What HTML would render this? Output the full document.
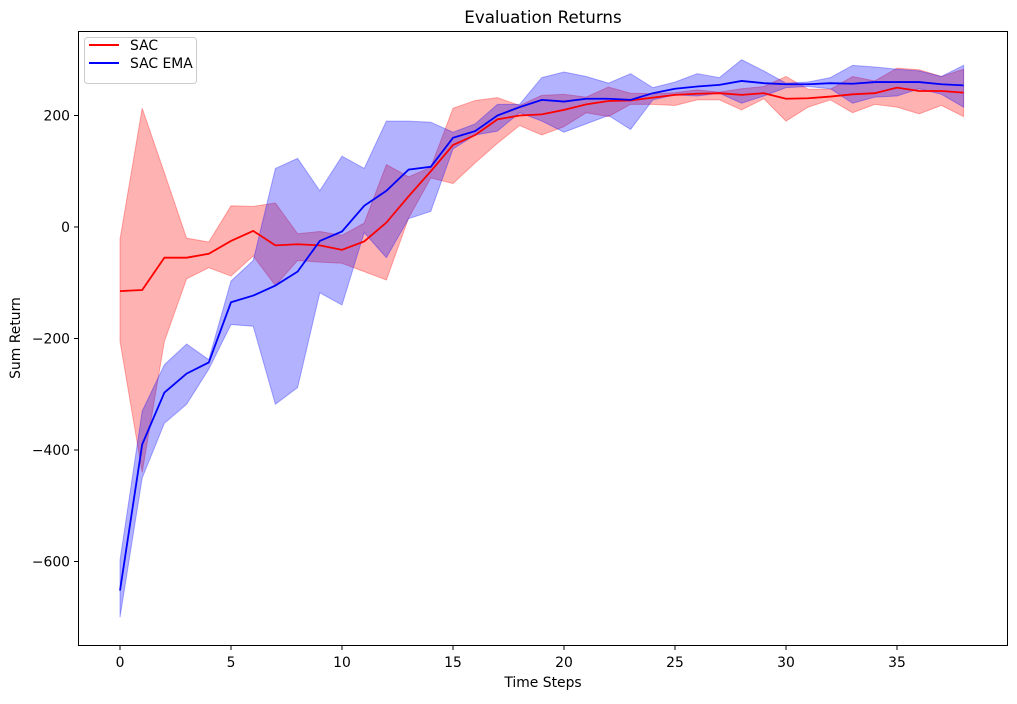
<!DOCTYPE html>
<html><head><meta charset="utf-8"><style>
body{margin:0;background:#fff;font-family:"Liberation Sans","DejaVu Sans",sans-serif;}
svg text{font-family:"DejaVu Sans","Liberation Sans",sans-serif;}
</style></head><body>
<svg id="chart" width="1017" height="699" xmlns="http://www.w3.org/2000/svg">
<rect width="1017" height="699" fill="#fff"/>
<g id="bands"></g><g id="lines"></g>
<rect x="78.5" y="31.5" width="929" height="614" fill="none" stroke="#000" stroke-width="1"/>
<g id="axes"></g>
<text x="543" y="23" font-size="16.7" text-anchor="middle">Evaluation Returns</text>
<text x="543" y="687" font-size="13.9" text-anchor="middle">Time Steps</text>
<text x="20" y="338" font-size="13.9" text-anchor="middle" transform="rotate(-90 20 338)">Sum Return</text>
<g>
<rect x="84.5" y="37.5" width="112" height="46" rx="3" fill="#fff" fill-opacity="0.8" stroke="#ccc"/>
<line x1="89" y1="45" x2="119" y2="45" stroke="red" stroke-width="2"/>
<text x="130" y="50" font-size="13.9">SAC</text>
<line x1="89" y1="63" x2="119" y2="63" stroke="blue" stroke-width="2"/>
<text x="130" y="68" font-size="13.9">SAC EMA</text>
</g>
</svg>
<script>
const steps=[0,1,2,3,4,5,6,7,8,9,10,11,12,13,14,15,16,17,18,19,20,21,22,23,24,25,26,27,28,29,30,31,32,33,34,35,36,37,38];
const sacMean=[-115,-113,-55,-55,-48,-25,-7,-33,-31,-33,-41,-26,8,55,100,147,165,193,200,202,210,220,226,227,232,237,239,240,237,240,230,231,234,238,240,250,244,244,241];
const sacUpper=[-22,213,97,-20,-27,38,37,43,-12,-8,-15,7,112,90,107,213,227,232,218,236,238,233,251,240,239,241,246,242,248,252,270,247,247,270,262,285,282,270,283];
const sacLower=[-205,-440,-205,-93,-73,-88,-52,-105,-60,-63,-65,-80,-95,16,88,78,115,150,182,165,180,205,198,220,220,218,228,228,210,230,190,215,228,205,220,215,203,218,198];
const emaMean=[-652,-390,-297,-263,-243,-135,-123,-105,-80,-25,-8,38,65,103,108,160,172,200,215,228,225,230,230,228,240,248,252,255,262,258,256,256,258,257,260,260,260,256,254];
const emaUpper=[-598,-330,-247,-210,-238,-97,-60,105,123,65,127,105,190,190,188,170,185,220,220,268,278,270,258,275,250,260,275,268,300,280,258,260,268,290,287,283,280,270,290];
const emaLower=[-700,-450,-352,-318,-255,-175,-178,-318,-288,-118,-140,-10,-55,15,28,140,165,172,205,190,170,185,200,175,228,237,235,240,222,235,250,252,248,222,233,235,248,238,215];
const xTicks=[0,5,10,15,20,25,30,35];
const yTicks=[-600,-400,-200,0,200];
const X=v=>120+v*22.2;
const Y=v=>227-v*0.5575;
const NS="http://www.w3.org/2000/svg";
function band(up,lo,col,name){
  const p=document.createElementNS(NS,'polygon');
  const pts=steps.map((s,i)=>X(s)+','+Y(up[i])).concat(steps.map((s,i)=>X(s)+','+Y(lo[i])).reverse());
  p.setAttribute('points',pts.join(' '));
  p.setAttribute('fill',col);p.setAttribute('fill-opacity','0.3');
  p.setAttribute('stroke',col);p.setAttribute('stroke-opacity','0.3');
  
  
  document.getElementById('bands').appendChild(p);
}
function line(m,col,name){
  const p=document.createElementNS(NS,'polyline');
  p.setAttribute('points',steps.map((s,i)=>X(s)+','+Y(m[i])).join(' '));
  p.setAttribute('fill','none');p.setAttribute('stroke',col);p.setAttribute('stroke-width','1.8');
  
  
  document.getElementById('lines').appendChild(p);
}
band(sacUpper,sacLower,'red','sac-band');
band(emaUpper,emaLower,'blue','sac-ema-band');
line(sacMean,'red','sac-line');
line(emaMean,'blue','sac-ema-line');
const ax=document.getElementById('axes');
xTicks.forEach(t=>{
  const l=document.createElementNS(NS,'line');
  l.setAttribute('x1',X(t));l.setAttribute('x2',X(t));l.setAttribute('y1',646);l.setAttribute('y2',650);l.setAttribute('stroke','#000');
  
  
  ax.appendChild(l);
  const tx=document.createElementNS(NS,'text');
  tx.setAttribute('x',X(t));tx.setAttribute('y',667);tx.setAttribute('font-size','13.9');tx.setAttribute('text-anchor','middle');
  tx.textContent=t;
  
  
  ax.appendChild(tx);
});
yTicks.forEach(t=>{
  const l=document.createElementNS(NS,'line');
  l.setAttribute('x1',74);l.setAttribute('x2',78.5);l.setAttribute('y1',Y(t));l.setAttribute('y2',Y(t));l.setAttribute('stroke','#000');
  
  
  ax.appendChild(l);
  const tx=document.createElementNS(NS,'text');
  tx.setAttribute('x',70);tx.setAttribute('y',Y(t)+5);tx.setAttribute('font-size','13.9');tx.setAttribute('text-anchor','end');
  tx.textContent=String(t).replace('-','\u2212');
  
  
  ax.appendChild(tx);
});
</script>
</body></html>
